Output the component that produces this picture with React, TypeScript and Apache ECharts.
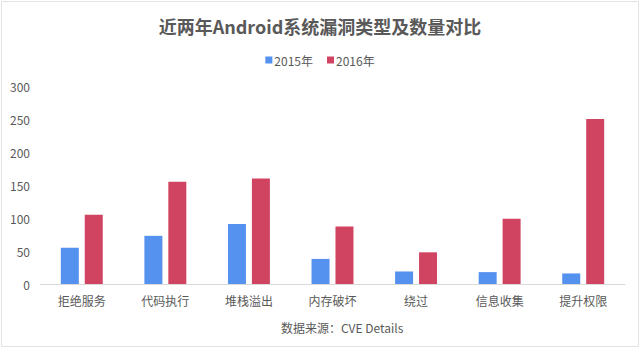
import React, { useEffect, useRef } from "react";
import * as echarts from "echarts";

const categories = ["拒绝服务", "代码执行", "堆栈溢出", "内存破坏", "绕过", "信息收集", "提升权限"];
const series2015 = [55, 73, 91, 38, 19, 18, 16];
const series2016 = [105, 155, 160, 87, 48, 99, 250];
const seriesNames = ["2015年", "2016年"];
const titleText = "近两年Android系统漏洞类型及数量对比";
const sourceText = "数据来源：CVE Details";

const FONT = "'Noto Sans CJK SC', 'Microsoft YaHei', sans-serif";
const TXT = "#595959";

export default function App() {
  const ref = useRef<HTMLDivElement>(null);
  useEffect(() => {
    if (!ref.current) return;
    const chart = echarts.init(ref.current, null, { renderer: "svg" });
    chart.setOption({
      animation: false,
      backgroundColor: "#ffffff",
      textStyle: { fontFamily: FONT },
      title: {
        text: titleText,
        left: "center",
        top: 12,
        textStyle: { fontSize: 18, fontWeight: "bold", color: TXT, fontFamily: FONT },
      },
      legend: {
        data: seriesNames,
        top: 49,
        left: "center",
        icon: "rect",
        itemWidth: 7,
        itemHeight: 7,
        itemGap: 14,
        textStyle: { fontSize: 12, color: TXT, fontFamily: FONT, padding: [0, 0, 0, -3] },
      },
      grid: { left: 40, right: 15, top: 86, bottom: 68 },
      xAxis: {
        type: "category",
        data: categories,
        axisLine: { lineStyle: { color: "#d9d9d9" } },
        axisTick: { show: false },
        axisLabel: { color: TXT, fontSize: 12, margin: 10, fontFamily: FONT },
      },
      yAxis: {
        type: "value",
        min: 0,
        max: 300,
        interval: 50,
        axisLine: { show: false },
        axisTick: { show: false },
        splitLine: { show: false },
        axisLabel: { color: TXT, fontSize: 12, margin: 10, fontFamily: FONT },
      },
      series: [
        {
          name: seriesNames[0],
          type: "bar",
          data: series2015,
          barWidth: 18,
          barGap: "33%",
          itemStyle: { color: "#5591EE" },
        },
        {
          name: seriesNames[1],
          type: "bar",
          data: series2016,
          barWidth: 18,
          itemStyle: { color: "#D04461" },
        },
      ],
      graphic: [
        {
          type: "text",
          left: 281,
          top: 321,
          style: { text: sourceText, fontSize: 12, fill: TXT, fontFamily: FONT },
        },
        {
          type: "rect",
          shape: { x: 1.5, y: 1.5, width: 637, height: 345 },
          style: { fill: "none", stroke: "#e3e3e3", lineWidth: 1 },
          silent: true,
        },
      ],
    });
    return () => chart.dispose();
  }, []);
  return (
    <div
      ref={ref}
      style={{ position: "fixed", left: 0, top: 0, width: 640, height: 352 }}
    />
  );
}
